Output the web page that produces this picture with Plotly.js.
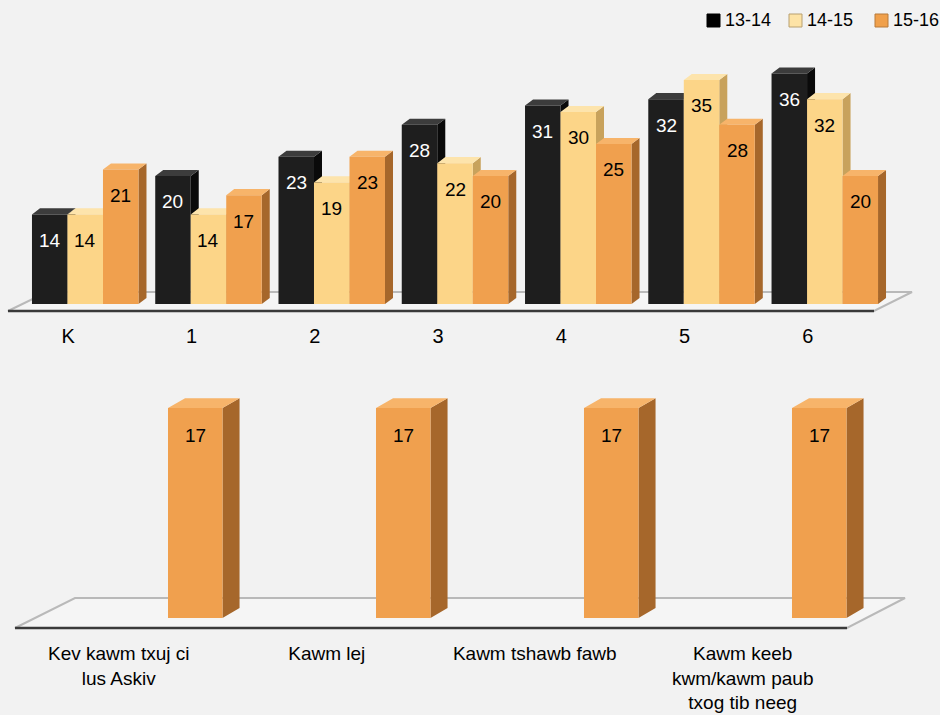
<!DOCTYPE html>
<html>
<head>
<meta charset="utf-8">
<script src="https://cdn.plot.ly/plotly-3.0.1.min.js"></script>
<style>
html,body{margin:0;padding:0;background:#f2f2f2;overflow:hidden;}
#chart{width:940px;height:715px;}
</style>
</head>
<body>
<div id="chart"></div>
<script>
// ---------- data ----------
const grades = ['K', '1', '2', '3', '4', '5', '6'];
const seriesNames = ['13-14', '14-15', '15-16'];
const v1314 = [14, 20, 23, 28, 31, 32, 36];
const v1415 = [14, 14, 19, 22, 30, 35, 32];
const v1516 = [21, 17, 23, 20, 25, 28, 20];
const subjects = ['Kev kawm txuj ci<br>lus Askiv', 'Kawm lej', 'Kawm tshawb fawb', 'Kawm keeb<br>kwm/kawm paub<br>txog tib neeg'];
const subjectValues = [17, 17, 17, 17];

// ---------- styles ----------
const W = 940, H = 715;
const FONT = 'Liberation Sans, Arial, Helvetica, sans-serif';
const styles = [
  {front: '#1e1e1e', side: '#0a0a0a', top: '#3c3c3c', text: '#ffffff', swatch: '#000000', swLine: '#000000'},
  {front: '#fcd588', side: '#c8a25c', top: '#fde4ac', text: '#000000', swatch: '#fde3a6', swLine: '#b8a070'},
  {front: '#f0a04e', side: '#a6672b', top: '#f7b46a', text: '#000000', swatch: '#f0a04b', swLine: '#b87a3a'}
];
const seriesVals = [v1314, v1415, v1516];

const topBW = 0.288;            // bar width (category units)
const topDX = 0.065, topDY = 0.95;   // 3D depth (x units, y units)
const botBW = 0.262;
const botDX = 0.082, botDY = 0.8;

const traces = [];
const annotations = [];

function faces(xs, vals, bw, off, dx, dy) {
  const sx = [], sy = [], tx = [], ty = [];
  xs.forEach((c, i) => {
    const v = vals[i];
    const x0 = c + off, x1 = x0 + bw;
    sx.push(x1, x1 + dx, x1 + dx, x1, x1, null);
    sy.push(0, dy, v + dy, v, 0, null);
    tx.push(x0, x1, x1 + dx, x0 + dx, x0, null);
    ty.push(v, v, v + dy, v + dy, v, null);
  });
  return {sx, sy, tx, ty};
}

// ---------- top chart ----------
const gIdx = grades.map((g, i) => i);
seriesVals.forEach((vals, k) => {
  const off = (k - 1.5) * topBW;
  const st = styles[k];
  const f = faces(gIdx, vals, topBW, off, topDX, topDY);
  traces.push({type: 'scatter', x: f.sx, y: f.sy, xaxis: 'x', yaxis: 'y', mode: 'lines', fill: 'toself',
    fillcolor: st.side, line: {width: 0}, hoverinfo: 'skip', showlegend: false});
  traces.push({type: 'scatter', x: f.tx, y: f.ty, xaxis: 'x', yaxis: 'y', mode: 'lines', fill: 'toself',
    fillcolor: st.top, line: {width: 0}, hoverinfo: 'skip', showlegend: false});
});
seriesVals.forEach((vals, k) => {
  const off = (k - 1.5) * topBW;
  const st = styles[k];
  traces.push({type: 'bar', name: seriesNames[k], x: gIdx, y: vals, xaxis: 'x3', yaxis: 'y3',
    width: topBW, offset: off, marker: {color: st.front, line: {width: 0}}, showlegend: false});
  vals.forEach((v, i) => {
    annotations.push({xref: 'x', yref: 'y', x: i + off + topBW / 2, y: v, yshift: -26,
      text: String(v), showarrow: false, font: {family: FONT, size: 19, color: st.text}});
  });
});

// ---------- bottom chart ----------
const sIdx = subjects.map((s, i) => i);
{
  const off = 0.5 * botBW;
  const st = styles[2];
  const f = faces(sIdx, subjectValues, botBW, off, botDX, botDY);
  traces.push({type: 'scatter', x: f.sx, y: f.sy, xaxis: 'x2', yaxis: 'y2', mode: 'lines', fill: 'toself',
    fillcolor: st.side, line: {width: 0}, hoverinfo: 'skip', showlegend: false});
  traces.push({type: 'scatter', x: f.tx, y: f.ty, xaxis: 'x2', yaxis: 'y2', mode: 'lines', fill: 'toself',
    fillcolor: st.top, line: {width: 0}, hoverinfo: 'skip', showlegend: false});
  traces.push({type: 'bar', name: seriesNames[2], x: sIdx, y: subjectValues, xaxis: 'x4', yaxis: 'y4',
    width: botBW, offset: off, marker: {color: st.front, line: {width: 0}}, showlegend: false});
  subjectValues.forEach((v, i) => {
    annotations.push({xref: 'x2', yref: 'y2', x: i + off + botBW / 2, y: v, yshift: -27,
      text: String(v), showarrow: false, font: {family: FONT, size: 19, color: st.text}});
  });
}

// ---------- legend (manual) ----------
const px = x => x / W, py = y => 1 - y / H;
const shapes = [];
const legendX = [707, 789, 875];
seriesNames.forEach((n, k) => {
  const x = legendX[k];
  shapes.push({type: 'rect', xref: 'paper', yref: 'paper', x0: px(x), x1: px(x + 13), y0: py(27), y1: py(14),
    fillcolor: styles[k].swatch, line: {color: styles[k].swLine, width: 1}});
  annotations.push({xref: 'paper', yref: 'paper', x: px(x + 16), y: py(20), xanchor: 'left', yanchor: 'middle',
    text: n, showarrow: false, font: {family: FONT, size: 18, color: '#000'}});
});

// ---------- floors ----------
function floor(fx0, fx1, fy, bx0, bx1, by) {
  shapes.push({type: 'path', layer: 'below', xref: 'paper', yref: 'paper',
    path: `M${px(fx0)},${py(fy)} L${px(bx0)},${py(by)} L${px(bx1)},${py(by)} L${px(fx1)},${py(fy)} Z`,
    fillcolor: '#f5f5f5', line: {color: '#b9b9b9', width: 2}});
  shapes.push({type: 'line', layer: 'below', xref: 'paper', yref: 'paper',
    x0: px(fx0), x1: px(fx1), y0: py(fy), y1: py(fy), line: {color: '#3a3a3a', width: 2.5}});
}
floor(8, 874, 311, 47, 912, 292);
floor(15, 847, 628, 75, 905, 598);

const hidden = {visible: false, showgrid: false, zeroline: false};
const layout = {
  width: W, height: H,
  margin: {l: 0, r: 0, t: 0, b: 0},
  paper_bgcolor: '#f2f2f2', plot_bgcolor: 'rgba(0,0,0,0)',
  showlegend: false,
  barmode: 'overlay',
  font: {family: FONT, color: '#000'},
  xaxis: {domain: [0.0251, 0.943], range: [-0.5, 6.5], anchor: 'y', tickmode: 'array', tickvals: gIdx, ticktext: grades,
    showgrid: false, zeroline: false, showline: false, ticks: '', tickfont: {size: 20, family: FONT, color: '#000'},
    ticklabelshift: -17, ticklabelstandoff: 18, fixedrange: true},
  yaxis: Object.assign({domain: [0.5748, 0.9329], range: [0, 40], anchor: 'x'}, hidden),
  xaxis3: Object.assign({overlaying: 'x', range: [-0.5, 6.5], anchor: 'y3'}, hidden),
  yaxis3: Object.assign({overlaying: 'y', range: [0, 40], anchor: 'x3'}, hidden),
  xaxis2: {domain: [0.0391, 0.9242], range: [-0.5, 3.5], anchor: 'y2', tickmode: 'array', tickvals: sIdx, ticktext: subjects,
    showgrid: false, zeroline: false, showline: false, ticks: '', tickfont: {size: 19, family: FONT, color: '#000'},
    ticklabelshift: -22, ticklabelstandoff: 22, fixedrange: true},
  yaxis2: Object.assign({domain: [0.1357, 0.4811], range: [0, 20], anchor: 'x2'}, hidden),
  xaxis4: Object.assign({overlaying: 'x2', range: [-0.5, 3.5], anchor: 'y4'}, hidden),
  yaxis4: Object.assign({overlaying: 'y2', range: [0, 20], anchor: 'x4'}, hidden),
  shapes: shapes,
  annotations: annotations
};

Plotly.newPlot('chart', traces, layout, {displayModeBar: false, staticPlot: true});
</script>
</body>
</html>
